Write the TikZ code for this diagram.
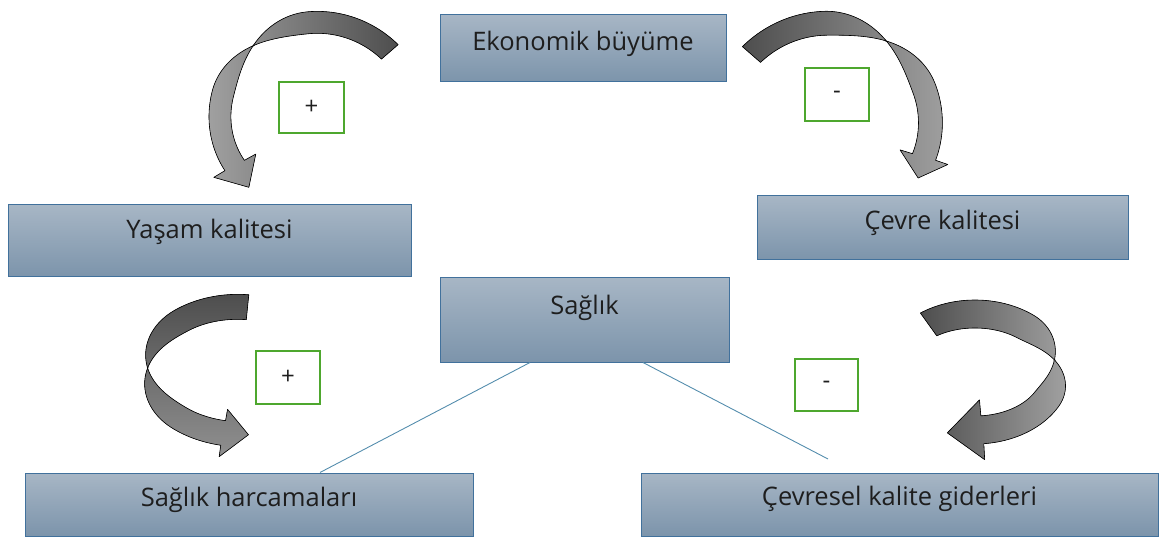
\documentclass[tikz,border=0pt]{standalone}
\usepackage{fontspec}
\setmainfont{Open Sans}
\definecolor{boxtop}{RGB}{167,182,197}
\definecolor{boxbot}{RGB}{124,148,171}
\definecolor{boxline}{RGB}{65,113,156}
\definecolor{linkblue}{RGB}{84,141,173}
\definecolor{signgreen}{RGB}{78,167,46}
\definecolor{txt}{RGB}{30,30,30}
\definecolor{ardark}{RGB}{78,78,78}
\definecolor{arlight}{RGB}{160,160,160}
\newcommand\caDraw[1]{%
\filldraw[carrow,#1,
 declare function={caang(\s)=\caA+(\caB-\caA)*\s; carad(\s)=\caRa+(\caRb-\caRa)*\s; cawid(\s)=\caW*sin(min(90,90*abs(caang(\s)-\caT)/\caP));}]
 plot[domain=0:1,samples=100,variable=\s] ({\caX+(\caS*carad(\s)+cawid(\s)/2)*cos(caang(\s))},{\caY-(carad(\s)+cawid(\s)/2)*sin(caang(\s))})
 -- ({\caX+(\caS*\caRb+\caH)*cos(\caB)},{\caY-(\caRb+\caH)*sin(\caB)})
 -- ({\caX+\caS*\caRt*cos(\caC)},{\caY-\caRt*sin(\caC)})
 -- ({\caX+(\caS*\caRb-\caH)*cos(\caB)},{\caY-(\caRb-\caH)*sin(\caB)})
 -- plot[domain=0:1,samples=100,variable=\s] ({\caX+(\caS*carad(1-\s)-cawid(1-\s)/2)*cos(caang(1-\s))},{\caY-(carad(1-\s)-cawid(1-\s)/2)*sin(caang(1-\s))})
 -- cycle;}
\begin{document}
\begin{tikzpicture}[x=1pt,y=-1pt,
 box/.style={draw=boxline, line width=1pt, top color=boxtop, bottom color=boxbot, inner sep=0pt},
 lbl/.style={text=txt, font=\fontsize{25.5}{30}\selectfont, inner sep=0pt},
 sign/.style={draw=signgreen, line width=2pt, fill=white, inner sep=0pt, text=txt, font=\fontsize{24}{28}\selectfont},
 link/.style={draw=linkblue, line width=0.9pt},
 carrow/.style={draw=black, line width=0.6pt, line join=round}]
\useasboundingbox (0,0) rectangle (1162,537);
% boxes
\node[box, minimum width=286pt, minimum height=67pt] (eko) at (583,48.5) {};
\node[box, minimum width=403pt, minimum height=72pt] (yasam) at (209.5,241) {};
\node[box, minimum width=371pt, minimum height=64pt] (cevre) at (942.5,228) {};
\node[box, minimum width=289pt, minimum height=84pt] (saglik) at (584.5,320) {};
\node[box, minimum width=448pt, minimum height=63pt] (harc) at (249,504.5) {};
\node[box, minimum width=517pt, minimum height=63pt] (gider) at (899.5,504.5) {};
\node[lbl] (tEko) at (583,44) {Ekonomik büyüme};
\node[lbl] (tYasam) at (209.5,232) {Yaşam kalitesi};
\node[lbl] (tCevre) at (942.5,223) {Çevre kalitesi};
\node[lbl] (tSaglik) at (584.5,308) {Sağlık};
\node[lbl] (tHarc) at (249,500) {Sağlık harcamaları};
\node[lbl] (tGider) at (899.5,499) {Çevresel kalite giderleri};
% links
\coordinate (linkEnd) at (828,459);
\draw[link] ([xshift=-54.5pt]saglik.south) -- ([xshift=71pt]harc.north);
\draw[link] ([xshift=58.5pt]saglik.south) -- (linkEnd);
% sign boxes
\node[sign, minimum width=65pt, minimum height=51pt] (s1) at (311.5,107.5) {+};
\node[sign, minimum width=64pt, minimum height=53pt] (s2) at (837,94.5) {-};
\node[sign, minimum width=64pt, minimum height=53pt] (s3) at (288,377.5) {+};
\node[sign, minimum width=63pt, minimum height=52pt] (s4) at (826.5,385) {-};
% curved arrows
\begin{scope}
\def\caX{310}\def\caY{124}\def\caS{1}\def\caRa{107.6}\def\caRb{86}
\def\caA{42}\def\caB{209}\def\caC{226}\def\caRt{88}\def\caW{22}\def\caH{24}\def\caT{126}\def\caP{35}
\caDraw{left color=arlight, right color=ardark}
\end{scope}
\begin{scope}
\def\caX{835}\def\caY{130}\def\caS{1}\def\caRa{112.6}\def\caRb{93}
\def\caA{138}\def\caB{-17}\def\caC{-30}\def\caRt{96}\def\caW{24}\def\caH{25}\def\caT{60}\def\caP{35}
\caDraw{left color=ardark, right color=arlight}
\end{scope}
\begin{scope}
\def\caX{240}\def\caY{368}\def\caS{1.45}\def\caRa{61}\def\caRb{66}
\def\caA{85}\def\caB{260}\def\caC{275}\def\caRt{67}\def\caW{25}\def\caH{24}\def\caT{180}\def\caP{50}
\caDraw{top color=ardark, bottom color=arlight!80!ardark}
\end{scope}
\begin{scope}
\def\caX{975}\def\caY{372}\def\caS{1.4}\def\caRa{58}\def\caRb{58}
\def\caA{125}\def\caB{-85}\def\caC{-108}\def\caRt{64}\def\caW{28}\def\caH{30}\def\caT{12}\def\caP{40}
\caDraw{left color=ardark, right color=arlight}
\end{scope}
\end{tikzpicture}
\end{document}
